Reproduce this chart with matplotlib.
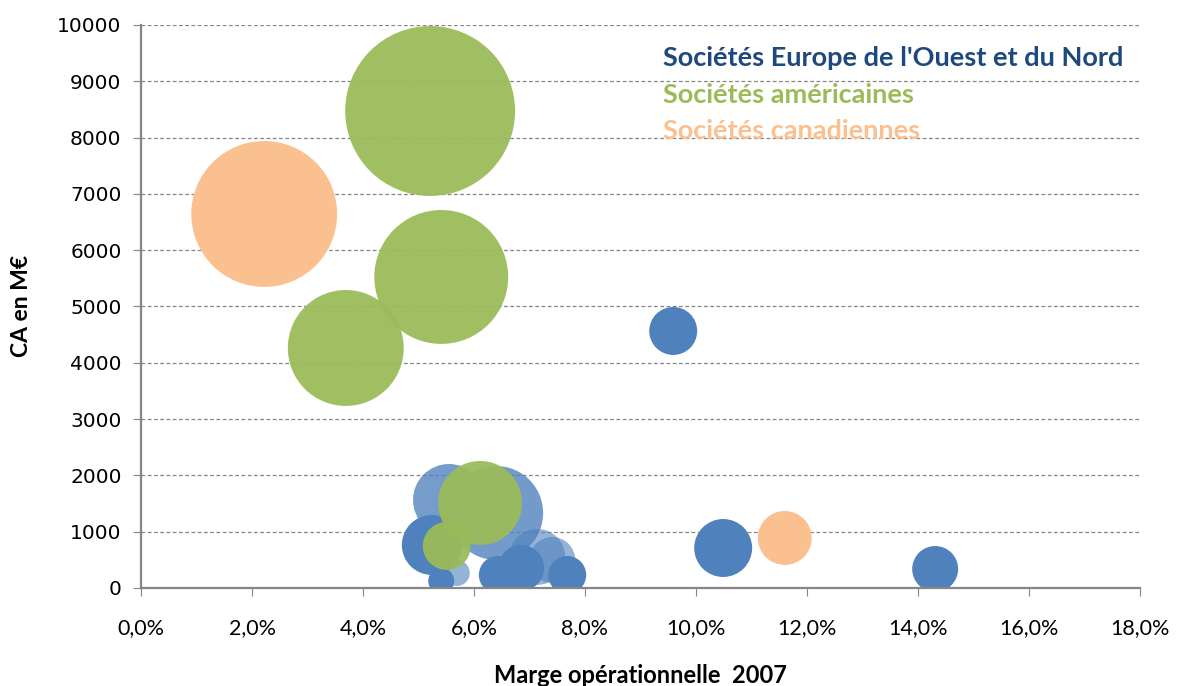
import matplotlib
matplotlib.use("Agg")
import matplotlib.pyplot as plt
from matplotlib.ticker import FuncFormatter, MultipleLocator

# marge opérationnelle 2007 (%), CA (M€), taille de bulle (unités relatives)
europe_marge = [9.59, 10.49, 14.31, 5.55, 6.40, 5.24, 5.69, 5.41, 7.14, 7.41, 6.43, 6.85, 7.68]
europe_ca = [4565, 710, 337, 1563, 1332, 764, 266, 124, 551, 497, 231, 355, 231]
europe_taille = [576, 841, 529, 1296, 2209, 900, 169, 169, 784, 529, 361, 529, 361]

usa_marge = [5.21, 5.41, 3.69, 6.11, 5.51]
usa_ca = [8472, 5524, 4263, 1510, 746]
usa_taille = [7225, 4489, 3364, 1764, 576]

canada_marge = [2.22, 11.60]
canada_ca = [6643, 888]
canada_taille = [5329, 729]

legend_labels = ["Sociétés Europe de l'Ouest et du Nord",
                 "Sociétés américaines",
                 "Sociétés canadiennes"]

BLUE = "#4F81BD"
GREEN = "#9BBB59"
ORANGE = "#FAC090"
GREY = "#868686"
NARROW = ["Lato", "DejaVu Sans"]

# some european bubbles are drawn semi-transparent in the original
europe_alpha = [1, 1, 1, 0.78, 0.8, 1, 0.6, 1, 0.6, 0.6, 1, 1, 1]

SCALE = 2.07  # taille -> marker area in pt^2


def rgba(hex_color, a):
    c = matplotlib.colors.to_rgba(hex_color)
    return (c[0], c[1], c[2], a)


fig = plt.figure(figsize=(11.78, 6.86), dpi=100)
ax = fig.add_axes([0.1197, 0.1429, 0.848, 0.8207])

ax.scatter(europe_marge, europe_ca, s=[t * SCALE for t in europe_taille],
           c=[rgba(BLUE, a) for a in europe_alpha], linewidths=0, zorder=3)
ax.scatter(usa_marge, usa_ca, s=[t * SCALE for t in usa_taille],
           c=GREEN, alpha=0.95, linewidths=0, zorder=4)
ax.scatter(canada_marge, canada_ca, s=[t * SCALE for t in canada_taille],
           c=ORANGE, linewidths=0, zorder=5)

ax.set_xlim(0, 18)
ax.set_ylim(0, 10000)
ax.xaxis.set_major_locator(MultipleLocator(2))
ax.yaxis.set_major_locator(MultipleLocator(1000))
ax.xaxis.set_major_formatter(FuncFormatter(lambda v, p: f"{v:.1f}%".replace(".", ",")))

ax.grid(axis="y", color=GREY, linestyle=(0, (3, 2)), linewidth=0.9, zorder=0)
ax.set_axisbelow(True)
for side in ["top", "right"]:
    ax.spines[side].set_visible(False)
for side in ["left", "bottom"]:
    ax.spines[side].set_color(GREY)
    ax.spines[side].set_linewidth(1.6)
    ax.spines[side].set_zorder(6)

ax.tick_params(axis="y", direction="out", length=6, color=GREY, labelsize=14.5, pad=8)
ax.tick_params(axis="x", direction="out", length=6, color=GREY, labelsize=15.5, pad=16)
for lab in ax.get_yticklabels():
    lab.set_family("DejaVu Sans")
for lab in ax.get_xticklabels():
    lab.set_family(NARROW)

ax.set_ylabel("CA en M€", fontsize=16.5, fontweight="bold", family=NARROW, labelpad=18)
ax.set_xlabel("Marge opérationnelle  2007", fontsize=17, fontweight="bold",
              family=NARROW, labelpad=18)

for label, color, ypos in zip(legend_labels, ["#1F497D", GREEN, ORANGE],
                              [0.941, 0.876, 0.812]):
    ax.text(0.5225, ypos, label, transform=ax.transAxes, color=color,
            fontsize=19.5, fontweight="bold", family=NARROW, va="center", zorder=7)

fig.savefig("out.png", dpi=100)
